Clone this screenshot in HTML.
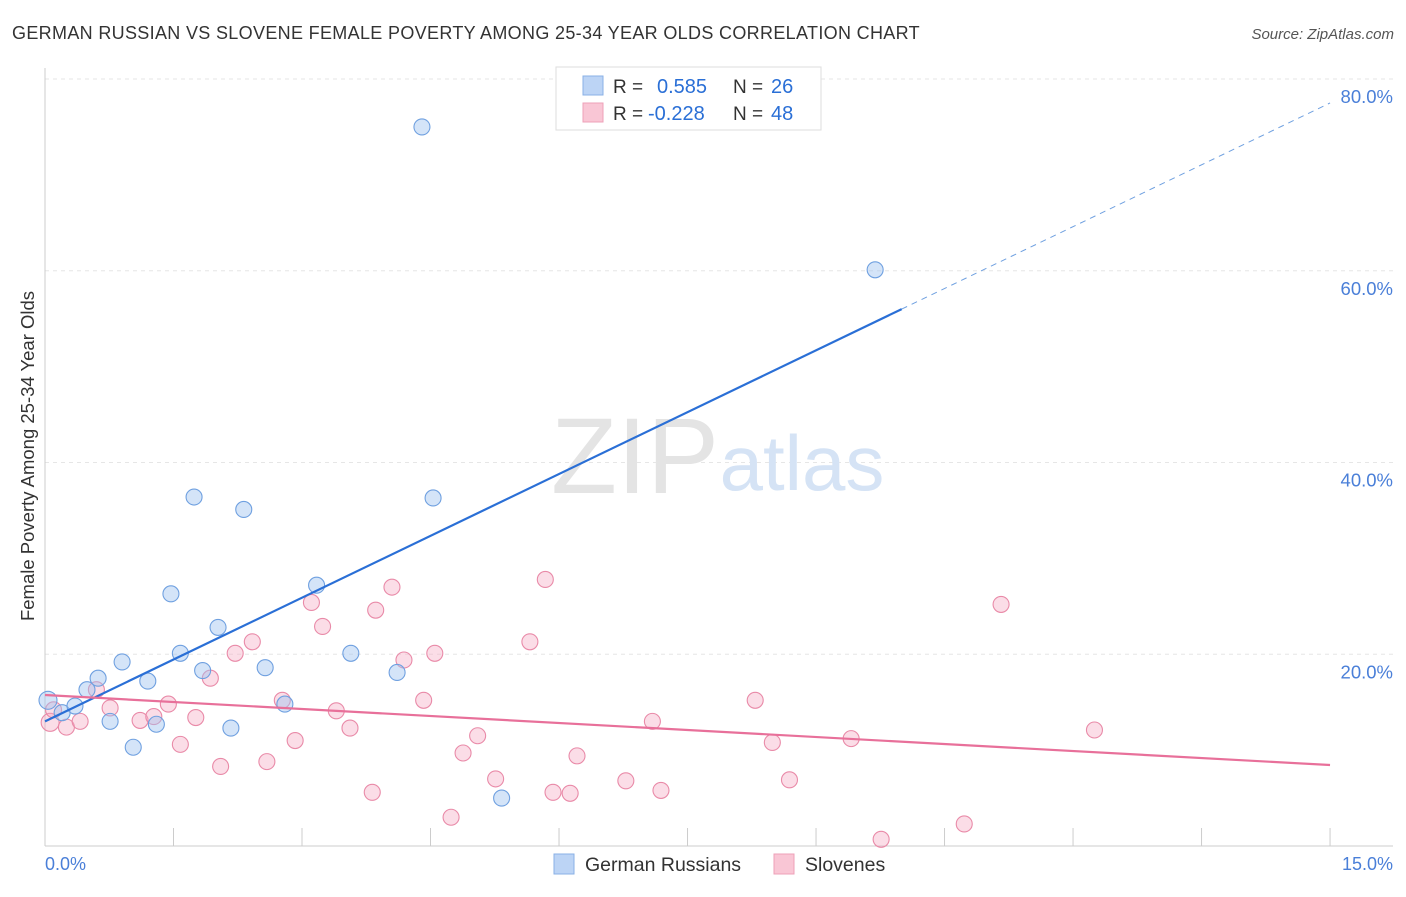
<!DOCTYPE html>
<html><head><meta charset="utf-8"><style>
body{margin:0;background:#fff;font-family:"Liberation Sans",sans-serif}
svg text{font-family:"Liberation Sans",sans-serif}
</style></head><body>
<svg width="1406" height="892" xmlns="http://www.w3.org/2000/svg">
<text x="12" y="39" font-size="18" fill="#333" letter-spacing="0.33">GERMAN RUSSIAN VS SLOVENE FEMALE POVERTY AMONG 25-34 YEAR OLDS CORRELATION CHART</text>
<text x="1394" y="39" font-size="15" fill="#555" font-style="italic" text-anchor="end">Source: ZipAtlas.com</text>
<g id="grid"></g>
<text x="635" y="493" font-size="108" fill="#e4e4e4" font-family="Liberation Serif" text-anchor="middle">ZIP</text>
<text x="802" y="490" font-size="78" fill="#d5e3f5" text-anchor="middle">atlas</text>
<line x1="45" y1="68" x2="45" y2="846" stroke="#ccc"/>
<line x1="45" y1="846" x2="1393" y2="846" stroke="#ccc"/>
<g id="xticks"></g>
<g id="ylabels"></g>
<text x="45" y="870" font-size="18" fill="#4a7fd8">0.0%</text>
<text x="1393" y="870" font-size="18" fill="#4a7fd8" text-anchor="end">15.0%</text>
<text transform="translate(34,456) rotate(-90)" font-size="18.5" fill="#333" text-anchor="middle">Female Poverty Among 25-34 Year Olds</text>
<g id="pink"></g>
<g id="blue"></g>
<g id="lines"></g>
<g>
<rect x="556" y="67" width="265" height="63" fill="#fff" stroke="#ddd"/>
<rect x="583" y="76" width="20" height="19" fill="#bcd4f5" stroke="#8ab0e6"/>
<rect x="583" y="103" width="20" height="19" fill="#f9c6d5" stroke="#eea0b8"/>
<text x="613" y="93" font-size="19" fill="#333">R = </text>
<text x="657" y="93" font-size="20" fill="#2a6fd6">0.585</text>
<text x="733" y="93" font-size="19" fill="#333">N = </text>
<text x="771" y="93" font-size="20" fill="#2a6fd6">26</text>
<text x="613" y="120" font-size="19" fill="#333">R = </text>
<text x="648" y="120" font-size="20" fill="#2a6fd6">-0.228</text>
<text x="733" y="120" font-size="19" fill="#333">N = </text>
<text x="771" y="120" font-size="20" fill="#2a6fd6">48</text>
</g>
<g>
<rect x="554" y="854" width="20" height="20" fill="#bcd4f5" stroke="#8ab0e6"/>
<text x="585" y="871" font-size="19.5" fill="#333">German Russians</text>
<rect x="774" y="854" width="20" height="20" fill="#f9c6d5" stroke="#eea0b8"/>
<text x="805" y="871" font-size="19.5" fill="#333">Slovenes</text>
</g>
</svg>
<script>
const blueX=[0.035,0.2,0.35,0.49,0.62,0.76,0.9,1.03,1.2,1.3,1.47,1.58,1.74,1.84,2.02,2.17,2.32,2.57,2.8,3.17,3.57,4.11,4.4,4.53,5.33,9.69];
const blueY=[15.2,13.9,14.6,16.3,17.5,13.0,19.2,10.3,17.2,12.7,26.3,20.1,36.4,18.3,22.8,12.3,35.1,18.6,14.8,27.2,20.1,18.1,75.0,36.3,5.0,60.1];
const pinkX=[0.06,0.1,0.25,0.41,0.6,0.76,1.11,1.27,1.44,1.58,1.76,1.93,2.05,2.22,2.42,2.59,2.77,2.92,3.11,3.24,3.4,3.56,3.82,3.86,4.05,4.19,4.42,4.55,4.74,4.88,5.05,5.26,5.66,5.84,5.93,6.13,6.21,6.78,7.09,7.19,8.29,8.49,8.69,9.41,9.76,10.73,11.16,12.25];
const pinkY=[12.9,14.2,12.4,13.0,16.3,14.4,13.1,13.5,14.8,10.6,13.4,17.5,8.3,20.1,21.3,8.8,15.2,11.0,25.4,22.9,14.1,12.3,5.6,24.6,27.0,19.4,15.2,20.1,3.0,9.7,11.5,7.0,21.3,27.8,5.6,5.5,9.4,6.8,13.0,5.8,15.2,10.8,6.9,11.2,0.7,2.3,25.2,12.1];
const yTicks=[20,40,60,80];
const yTickLabels=["20.0%","40.0%","60.0%","80.0%"];
const blueTrend=[13.0,4.3]; // intercept, slope
const blueSolidEnd=10.0;
const pinkTrend=[15.75,-0.487];
const NS="http://www.w3.org/2000/svg";
const sx=v=>45+v*85.67, sy=v=>846-v*9.5875;
function mk(t,a,p){const e=document.createElementNS(NS,t);for(const k in a)e.setAttribute(k,a[k]);p.appendChild(e);return e;}
const grid=document.getElementById('grid'),yl=document.getElementById('ylabels');
yTicks.forEach((t,i)=>{
 const l=mk('line',{x1:45,x2:1393,y1:sy(t),y2:sy(t),stroke:'#e6e6e6','stroke-dasharray':'4,4'},grid);
 
 
 const tx=mk('text',{x:1393,y:sy(t)+24,'font-size':18.5,fill:'#4a7fd8','text-anchor':'end'},yl);
 tx.textContent=yTickLabels[i];
 
 
});
const xt=document.getElementById('xticks');
for(let i=1;i<=10;i++){const l=mk('line',{x1:sx(i*1.5),x2:sx(i*1.5),y1:828,y2:846,stroke:'#ccc'},xt);
 
 }
const pg=document.getElementById('pink'),bg=document.getElementById('blue');
pinkX.forEach((x,i)=>{const c=mk('circle',{cx:sx(x),cy:sy(pinkY[i]),r:i==0?9:8,fill:'rgba(245,170,195,0.4)',stroke:'#e98aa8','stroke-width':1.1},pg);
 
 });
blueX.forEach((x,i)=>{const c=mk('circle',{cx:sx(x),cy:sy(blueY[i]),r:i==0?9:8,fill:'rgba(160,195,240,0.45)',stroke:'#6fa0e0','stroke-width':1.1},bg);
 
 });
const lg=document.getElementById('lines');
const bl=mk('line',{x1:sx(0),y1:sy(blueTrend[0]),x2:sx(blueSolidEnd),y2:sy(blueTrend[0]+blueTrend[1]*blueSolidEnd),stroke:'#2a6fd6','stroke-width':2.2},lg);


const bd=mk('line',{x1:sx(blueSolidEnd),y1:sy(blueTrend[0]+blueTrend[1]*blueSolidEnd),x2:sx(15),y2:sy(blueTrend[0]+blueTrend[1]*15),stroke:'#6fa0e0','stroke-width':1,'stroke-dasharray':'6,5'},lg);


const pl=mk('line',{x1:sx(0),y1:sy(pinkTrend[0]),x2:sx(15),y2:sy(pinkTrend[0]+pinkTrend[1]*15),stroke:'#e8709a','stroke-width':2.2},lg);


</script>
</body></html>
